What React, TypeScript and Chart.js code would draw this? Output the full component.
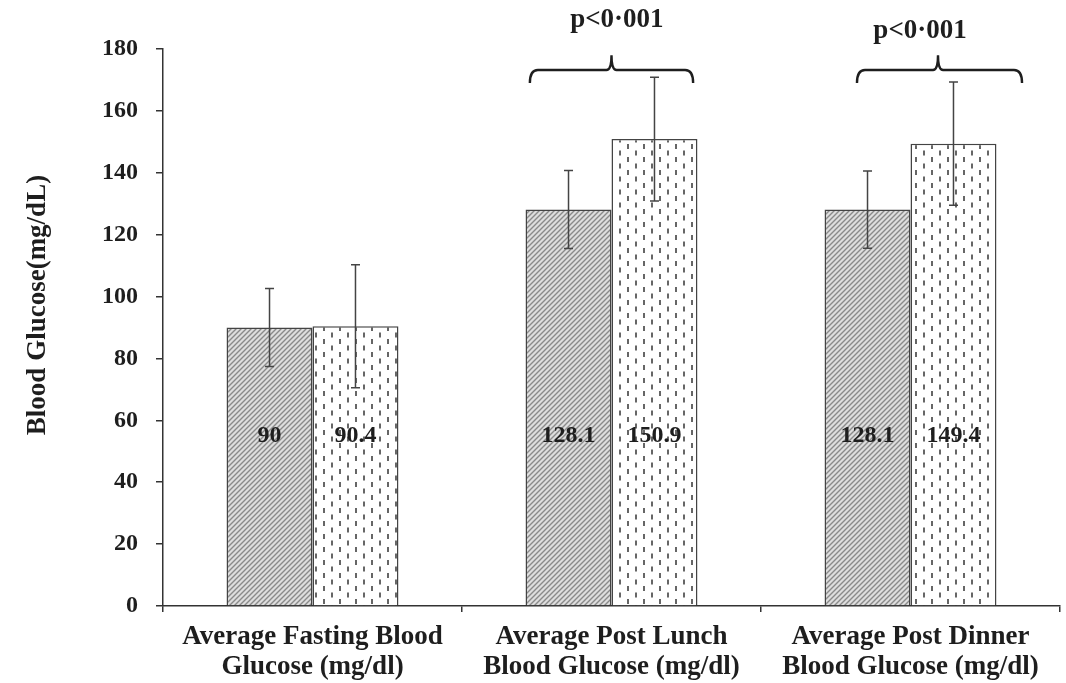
import React, { useEffect, useRef } from "react";
import { Chart, registerables } from "chart.js";

Chart.register(...registerables);

const categories: string[][] = [
  ["Average Fasting Blood", "Glucose (mg/dl)"],
  ["Average Post Lunch", "Blood Glucose (mg/dl)"],
  ["Average Post Dinner", "Blood Glucose (mg/dl)"],
];
const groupA: number[] = [90, 128.1, 128.1];
const groupB: number[] = [90.4, 150.9, 149.4];
const errorA: number[] = [12.6, 12.6, 12.5];
const errorB: number[] = [19.9, 20, 19.9];
const valueLabelsA: string[] = ["90", "128.1", "128.1"];
const valueLabelsB: string[] = ["90.4", "150.9", "149.4"];
const significance: string[] = ["", "p<0·001", "p<0·001"];
const yMax = 180;
const yStep = 20;
const yTitle = "Blood Glucose(mg/dL)";

const FONT = "'Liberation Serif', 'Times New Roman', serif";
const INK = "#1e1e1e";
const LINE = "#444444";

function makeHatch(ctx: CanvasRenderingContext2D): CanvasPattern | string {
  const c = document.createElement("canvas");
  c.width = 5;
  c.height = 5;
  const g = c.getContext("2d")!;
  g.fillStyle = "#dedede";
  g.fillRect(0, 0, 5, 5);
  g.strokeStyle = "#8a8a8a";
  g.lineWidth = 1.4;
  g.beginPath();
  g.moveTo(-1, 6);
  g.lineTo(6, -1);
  g.moveTo(-1, 1);
  g.lineTo(1, -1);
  g.moveTo(4, 6);
  g.lineTo(6, 4);
  g.stroke();
  return ctx.createPattern(c, "repeat") || "#bbbbbb";
}

function makeDashes(ctx: CanvasRenderingContext2D): CanvasPattern | string {
  const c = document.createElement("canvas");
  c.width = 16;
  c.height = 13;
  const g = c.getContext("2d")!;
  g.fillStyle = "#ffffff";
  g.fillRect(0, 0, 16, 13);
  g.fillStyle = "#666666";
  g.fillRect(3, 1, 2, 5);
  g.fillRect(11, 7.5, 2, 5);
  return ctx.createPattern(c, "repeat") || "#eeeeee";
}

// bracket geometry in category-width units relative to category centre
const bracketGeom: Record<number, { l: number; r: number; tip: number; tx: number; ty: number }> = {
  1: { l: -0.273, r: 0.273, tip: 0.0, tx: 0.018, ty: 189.5 },
  2: { l: -0.179, r: 0.373, tip: 0.092, tx: 0.032, ty: 185.8 },
};

const overlayPlugin = {
  id: "overlay",
  afterDatasetsDraw(chart: any) {
    const ctx: CanvasRenderingContext2D = chart.ctx;
    const x = chart.scales.x;
    const y = chart.scales.y;
    ctx.save();
    // error bars
    const errs = [errorA, errorB];
    chart.data.datasets.forEach((ds: any, di: number) => {
      const meta = chart.getDatasetMeta(di);
      meta.data.forEach((bar: any, i: number) => {
        const v = ds.data[i];
        const e = errs[di][i];
        const cx = bar.x;
        const yt = y.getPixelForValue(v + e);
        const yb = y.getPixelForValue(v - e);
        ctx.strokeStyle = LINE;
        ctx.lineWidth = 1.5;
        ctx.beginPath();
        ctx.moveTo(cx, yt);
        ctx.lineTo(cx, yb);
        ctx.moveTo(cx - 4.5, yt);
        ctx.lineTo(cx + 4.5, yt);
        ctx.moveTo(cx - 4.5, yb);
        ctx.lineTo(cx + 4.5, yb);
        ctx.stroke();
      });
    });
    // value labels
    const labels = [valueLabelsA, valueLabelsB];
    ctx.fillStyle = INK;
    ctx.font = `bold 24px ${FONT}`;
    ctx.textAlign = "center";
    ctx.textBaseline = "middle";
    const labelY = y.getPixelForValue(55);
    chart.data.datasets.forEach((_ds: any, di: number) => {
      const meta = chart.getDatasetMeta(di);
      meta.data.forEach((bar: any, i: number) => {
        ctx.fillText(labels[di][i], bar.x, labelY);
      });
    });
    // significance brackets
    const cw = x.getPixelForValue(1) - x.getPixelForValue(0);
    significance.forEach((txt, i) => {
      if (!txt) return;
      const g = bracketGeom[i];
      const c = x.getPixelForValue(i);
      const x1 = c + g.l * cw;
      const x2 = c + g.r * cw;
      const xt = c + g.tip * cw;
      const yl = y.getPixelForValue(173.2);
      const ye = y.getPixelForValue(169);
      const yp = y.getPixelForValue(178);
      ctx.strokeStyle = INK;
      ctx.lineWidth = 2.4;
      ctx.beginPath();
      ctx.moveTo(x1, ye);
      ctx.quadraticCurveTo(x1, yl, x1 + 8, yl);
      ctx.lineTo(xt - 5, yl);
      ctx.quadraticCurveTo(xt, yl, xt, yp);
      ctx.quadraticCurveTo(xt, yl, xt + 5, yl);
      ctx.lineTo(x2 - 8, yl);
      ctx.quadraticCurveTo(x2, yl, x2, ye);
      ctx.stroke();
      ctx.font = `bold 27px ${FONT}`;
      ctx.fillStyle = INK;
      ctx.fillText(txt, c + g.tx * cw, y.getPixelForValue(g.ty));
    });
    // y axis title
    ctx.translate(38, 305);
    ctx.rotate(-Math.PI / 2);
    ctx.font = `bold 27px ${FONT}`;
    ctx.fillText(yTitle, 0, 0);
    ctx.restore();
  },
};

export default function App() {
  const ref = useRef<HTMLCanvasElement | null>(null);
  useEffect(() => {
    const canvas = ref.current!;
    const ctx = canvas.getContext("2d")!;
    const chart = new Chart(ctx, {
      type: "bar",
      data: {
        labels: categories,
        datasets: [
          {
            label: "Group A",
            data: groupA,
            backgroundColor: makeHatch(ctx) as any,
            borderColor: LINE,
            borderWidth: 1.5,
            categoryPercentage: 0.575,
            barPercentage: 1,
          },
          {
            label: "Group B",
            data: groupB,
            backgroundColor: makeDashes(ctx) as any,
            borderColor: LINE,
            borderWidth: 1.5,
            categoryPercentage: 0.575,
            barPercentage: 1,
          },
        ],
      },
      options: {
        responsive: false,
        animation: false,
        layout: { padding: { top: 49, right: 6, left: 0, bottom: 0 } },
        plugins: {
          legend: { display: false },
          tooltip: { enabled: false },
        },
        scales: {
          x: {
            offset: true,
            grid: {
              offset: true,
              drawOnChartArea: false,
              drawTicks: true,
              tickLength: 6,
              color: "#333333",
              lineWidth: 1.5,
            },
            border: { display: true, color: "#333333", width: 1.5 },
            ticks: {
              color: INK,
              padding: 10,
              maxRotation: 0,
              autoSkip: false,
              font: { family: FONT, size: 27, weight: "bold", lineHeight: 1.1 },
            },
            afterFit: (s: any) => {
              s.height = 77;
            },
          },
          y: {
            min: 0,
            max: yMax,
            ticks: {
              stepSize: yStep,
              color: INK,
              padding: 18,
              font: { family: FONT, size: 24, weight: "bold" },
            },
            grid: {
              drawOnChartArea: false,
              drawTicks: true,
              tickLength: 7,
              color: "#333333",
              lineWidth: 1.5,
            },
            border: { display: true, color: "#333333", width: 1.5 },
            afterFit: (s: any) => {
              s.width = 163;
            },
          },
        },
      },
      plugins: [overlayPlugin],
    });
    return () => chart.destroy();
  }, []);
  return (
    <div style={{ position: "fixed", left: 0, top: 0, width: 1066, height: 683, background: "#fff" }}>
      <canvas ref={ref} width={1066} height={683} />
    </div>
  );
}
